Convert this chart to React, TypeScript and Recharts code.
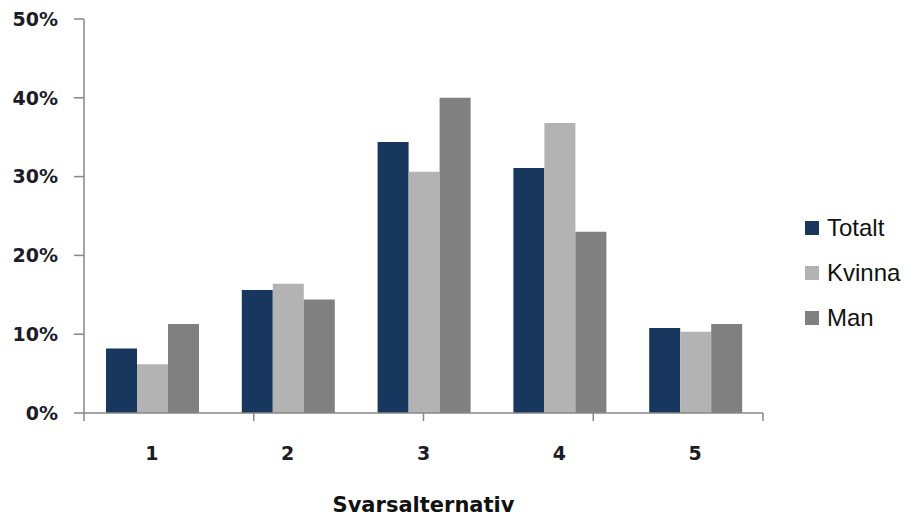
import { BarChart, Bar, XAxis, YAxis, Legend } from 'recharts';

// Andel svar per alternativ (procent)
const alternativ = ['1', '2', '3', '4', '5'];
const totalt = [8.2, 15.6, 34.4, 31.1, 10.8];
const kvinna = [6.2, 16.4, 30.6, 36.8, 10.3];
const man = [11.3, 14.4, 40.0, 23.0, 11.3];
const procentTicks = [0, 10, 20, 30, 40, 50];
const kantTicks = [0, 1, 2, 3, 4, 5];

const serier = [
  { key: 'totalt', namn: 'Totalt', farg: '#17375E' },
  { key: 'kvinna', namn: 'Kvinna', farg: '#B3B3B3' },
  { key: 'man', namn: 'Man', farg: '#808080' },
];

const data = alternativ.map((a, i) => ({
  alternativ: a,
  totalt: totalt[i],
  kvinna: kvinna[i],
  man: man[i],
}));

const axelFarg = '#878787';
const tickFont = { fontFamily: 'DejaVu Sans', fontSize: 19, fontWeight: 'bold', fill: '#1c1c28' };

function Forklaring() {
  return (
    <div style={{ fontFamily: 'Liberation Sans, Arial, sans-serif', fontSize: 24, color: '#111' }}>
      {serier.map(s => (
        <div key={s.key} style={{ display: 'flex', alignItems: 'center', height: 45 }}>
          <span style={{ width: 14, height: 14, background: s.farg, marginRight: 8, display: 'inline-block' }} />
          <span>{s.namn}</span>
        </div>
      ))}
    </div>
  );
}

export default function App() {
  return (
    <div style={{ position: 'absolute', left: 0, top: 0, background: '#fff' }}>
      <BarChart
        width={908}
        height={520}
        data={data}
        margin={{ top: 19, right: 145, left: 0, bottom: 0 }}
        barCategoryGap={22}
        barGap={0}
      >
        {/* Skiljestreck mellan kategorierna */}
        <XAxis
          xAxisId="kant"
          type="number"
          domain={[0, 5]}
          allowDataOverflow
          ticks={kantTicks}
          tick={() => <g />}
          tickLine={{ stroke: axelFarg, strokeWidth: 1.5 }}
          tickSize={8}
          height={8}
          stroke={axelFarg}
          strokeWidth={1.5}
        />
        <XAxis
          xAxisId="kat"
          dataKey="alternativ"
          axisLine={false}
          tickLine={false}
          tickSize={0}
          tickMargin={26}
          height={99}
          tick={tickFont}
          label={{
            value: 'Svarsalternativ',
            position: 'insideBottom',
            offset: 8,
            style: { fontFamily: 'DejaVu Sans', fontWeight: 'bold', fontSize: 21, fill: '#111' },
          }}
        />
        <YAxis
          width={84}
          domain={[0, 50]}
          ticks={procentTicks}
          tickFormatter={v => `${v}%`}
          tickSize={10}
          tickMargin={16}
          stroke={axelFarg}
          strokeWidth={1.5}
          tickLine={{ stroke: axelFarg, strokeWidth: 1.5 }}
          tick={tickFont}
        />
        <Legend
          layout="vertical"
          align="center"
          verticalAlign="middle"
          content={() => <Forklaring />}
          wrapperStyle={{ left: 805, top: 205, width: 'auto' }}
        />
        {serier.map(s => (
          <Bar
            key={s.key}
            xAxisId="kat"
            dataKey={s.key}
            name={s.namn}
            fill={s.farg}
            isAnimationActive={false}
          />
        ))}
      </BarChart>
    </div>
  );
}
